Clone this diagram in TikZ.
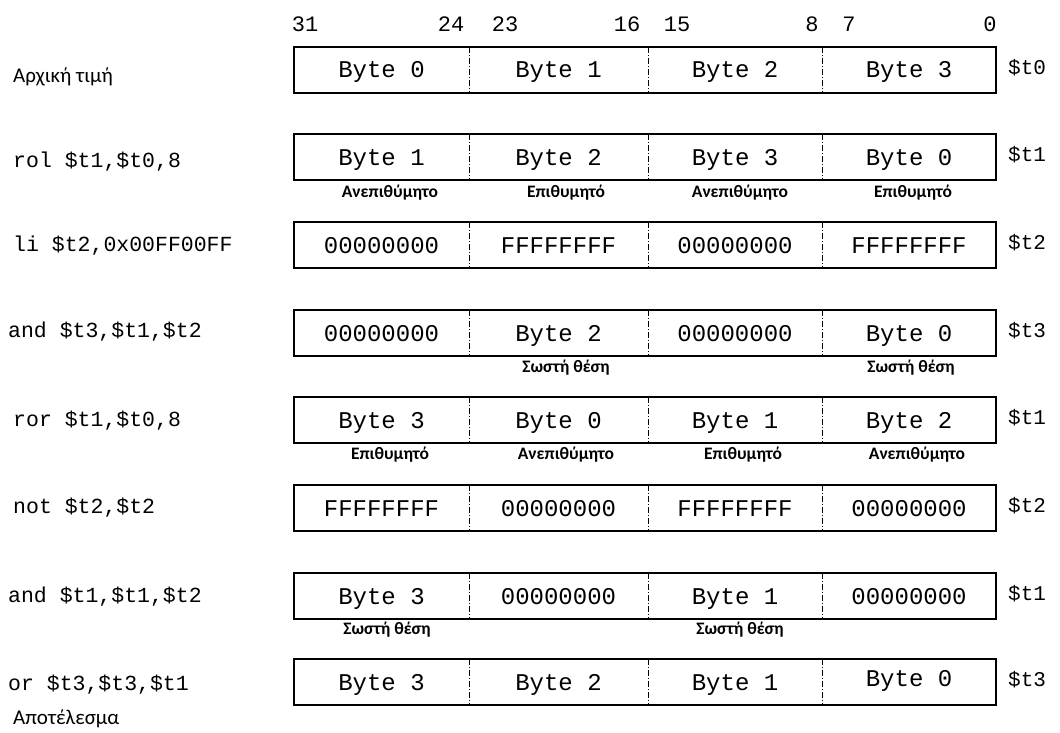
\documentclass[tikz,border=0pt]{standalone}
\usepackage{fontspec}
\setmonofont{Liberation Mono}
\newfontfamily\grk{Carlito}
\tikzset{
  cell/.style={inner sep=0pt, text height=31pt, text depth=15pt, font=\ttfamily\fontsize{24}{24}\selectfont},
  regbox/.style={draw, line width=1.5pt, inner sep=0pt, minimum width=702pt, minimum height=46pt},
  divider/.style={line width=0.9pt, dash pattern=on 6pt off 2pt on 1pt off 2pt},
  code/.style={anchor=west, font=\ttfamily\fontsize{21.5}{22}\selectfont, inner sep=0pt},
  reg/.style={anchor=west, font=\ttfamily\fontsize{21}{22}\selectfont, inner sep=0pt},
  bitnum/.style={font=\ttfamily\fontsize{22}{22}\selectfont, inner sep=0pt},
  note/.style={font=\grk\bfseries\fontsize{17.5}{18}\selectfont, inner sep=0pt},
  title/.style={anchor=west, font=\grk\fontsize{21}{21}\selectfont, inner sep=0pt},
}
\newcommand\regrow[7]{%
  \node[regbox] (#1) at (645,#2) {};
  \node[cell, minimum width=175pt] (#1a) at (381.5,#2) {#3};
  \node[cell, minimum width=179pt] (#1b) at (558.5,#2) {#4};
  \node[cell, minimum width=174pt] (#1c) at (735,#2) {#5};
  \node[cell, minimum width=174pt] (#1d) at (909,#2) {#6};
  \draw[divider] (#1a.north east) -- (#1a.south east);
  \draw[divider] (#1b.north east) -- (#1b.south east);
  \draw[divider] (#1c.north east) -- (#1c.south east);
  \node[reg] (#1r) at (1008,#2-2) {\$#7};
}
\begin{document}
\begin{tikzpicture}[x=1pt,y=-1pt]
\useasboundingbox (0,0) rectangle (1060,733);
% bit numbers
\node[bitnum] (b31) at (305,24) {31};
\node[bitnum] (b24) at (451,24) {24};
\node[bitnum] (b23) at (505,24) {23};
\node[bitnum] (b16) at (627,24) {16};
\node[bitnum] (b15) at (677,24) {15};
\node[bitnum] (b8) at (812,24) {8};
\node[bitnum] (b7) at (849,24) {7};
\node[bitnum] (b0) at (990,24) {0};
% rows
\regrow{ra}{70}{Byte 0}{Byte 1}{Byte 2}{Byte 3}{t0}
\regrow{rb}{157}{Byte 1}{Byte 2}{Byte 3}{Byte 0}{t1}
\regrow{rc}{245}{00000000}{FFFFFFFF}{00000000}{FFFFFFFF}{t2}
\regrow{rd}{333}{00000000}{Byte 2}{00000000}{Byte 0}{t3}
\regrow{re}{420}{Byte 3}{Byte 0}{Byte 1}{Byte 2}{t1}
\regrow{rf}{508}{FFFFFFFF}{00000000}{FFFFFFFF}{00000000}{t2}
\regrow{rg}{596}{Byte 3}{00000000}{Byte 1}{00000000}{t1}
\regrow{rh}{682}{Byte 3}{Byte 2}{Byte 1}{\raisebox{4pt}{Byte 0}}{t3}
% left labels
\node[title] (l0) at (13,77) {Αρχική τιμή};
\node[code] (l1) at (13,162) {rol \$t1,\$t0,8};
\node[code] (l2) at (13,246) {li \$t2,0x00FF00FF};
\node[code] (l3) at (8,332) {and \$t3,\$t1,\$t2};
\node[code] (l4) at (13,421) {ror \$t1,\$t0,8};
\node[code] (l5) at (13,508) {not \$t2,\$t2};
\node[code] (l6) at (8,597) {and \$t1,\$t1,\$t2};
\node[code] (l7) at (8,685) {or \$t3,\$t3,\$t1};
\node[title] (l8) at (13,719) {Αποτέλεσμα};
% notes
\node[note] (nb1) at (390,193) {Ανεπιθύμητο};
\node[note] (nb2) at (566,193) {Επιθυμητό};
\node[note] (nb3) at (740,193) {Ανεπιθύμητο};
\node[note] (nb4) at (913,193) {Επιθυμητό};
\node[note] (nd2) at (566,368) {Σωστή θέση};
\node[note] (nd4) at (911,368) {Σωστή θέση};
\node[note] (ne1) at (390,455) {Επιθυμητό};
\node[note] (ne2) at (566,455) {Ανεπιθύμητο};
\node[note] (ne3) at (743,455) {Επιθυμητό};
\node[note] (ne4) at (917,455) {Ανεπιθύμητο};
\node[note] (ng1) at (387,630) {Σωστή θέση};
\node[note] (ng3) at (740,630) {Σωστή θέση};
\end{tikzpicture}
\end{document}
